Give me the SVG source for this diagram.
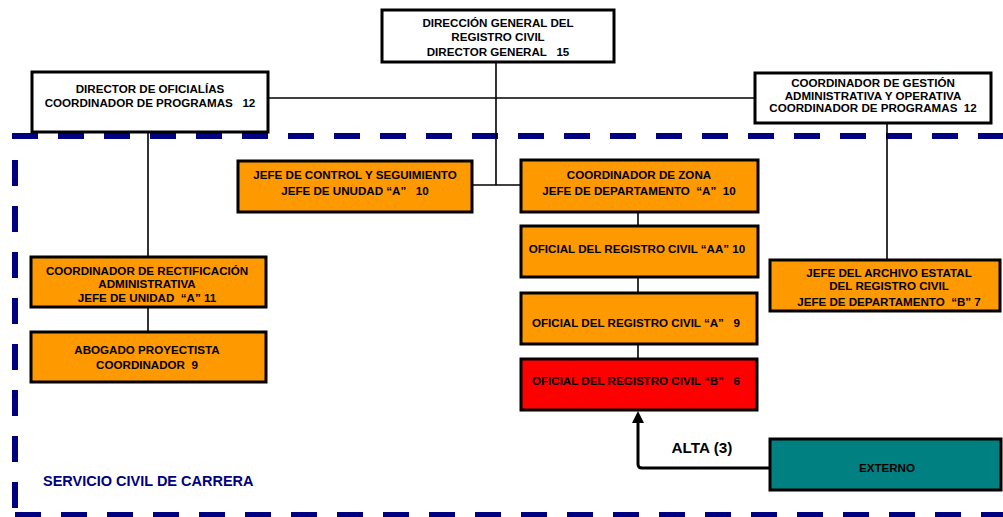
<svg xmlns="http://www.w3.org/2000/svg" width="1003" height="517" viewBox="0 0 1003 517" xml:space="preserve">
  <style>
    .box { stroke: #000; stroke-width: 3; }
    .white { fill: #fff; }
    .orange { fill: #FF9900; }
    .red { fill: #FF0000; }
    .teal { fill: #008080; }
    .t { font-family: "Liberation Sans", Arial, sans-serif; font-weight: bold; font-size: 11.6px; fill: #000; text-anchor: middle; white-space: pre; }
    .conn { stroke: #000; stroke-width: 1.6; fill: none; }
    .dash { stroke: #000080; stroke-width: 6; stroke-dasharray: 26 20; fill: none; }
  </style>

  <rect width="1003" height="517" fill="#fff"/>

  <!-- career civil service boundary -->
  <g id="boundary">
    <line class="dash" x1="12" y1="136" x2="1003" y2="136"/>
    <line class="dash" x1="15" y1="160" x2="15" y2="517"/>
    <line class="dash" x1="15" y1="515" x2="1003" y2="515"/>
    <text x="43" y="486" font-family="Liberation Sans, Arial, sans-serif" font-weight="bold" font-size="14.5" fill="#000080">SERVICIO CIVIL DE CARRERA</text>
  </g>

  <!-- connectors -->
  <g id="connectors">
    <line class="conn" x1="268" y1="98" x2="755" y2="98"/>
    <line class="conn" x1="496" y1="62" x2="496" y2="185"/>
    <line class="conn" x1="472" y1="185" x2="521" y2="185"/>
    <line class="conn" x1="148" y1="132" x2="148" y2="257"/>
    <line class="conn" x1="148" y1="307" x2="148" y2="332"/>
    <line class="conn" x1="887" y1="123" x2="887" y2="260"/>
    <line class="conn" x1="638" y1="212" x2="638" y2="226"/>
    <line class="conn" x1="638" y1="277" x2="638" y2="293"/>
    <line class="conn" x1="638" y1="344" x2="638" y2="359"/>
    <path d="M770,468 H642 Q638,468 638,464 V421" stroke="#000" stroke-width="3" fill="none"/>
    <polygon points="638,411 632,423 644,423" fill="#000"/>
    <text x="702" y="453" font-family="Liberation Sans, Arial, sans-serif" font-weight="bold" font-size="15.3" text-anchor="middle">ALTA (3)</text>
  </g>

  <g id="direccion-general">
    <rect class="box white" x="382" y="10" width="232" height="52"/>
    <text class="t" x="498" y="27">DIRECCIÓN GENERAL DEL</text>
    <text class="t" x="498" y="41">REGISTRO CIVIL</text>
    <text class="t" x="498" y="56">DIRECTOR GENERAL   15</text>
  </g>

  <g id="director-oficialias">
    <rect class="box white" x="32" y="72" width="236" height="60"/>
    <text class="t" x="150" y="93">DIRECTOR DE OFICIALÍAS</text>
    <text class="t" x="150" y="107">COORDINADOR DE PROGRAMAS   12</text>
  </g>

  <g id="coordinador-gestion">
    <rect class="box white" x="755" y="73" width="236" height="50"/>
    <text class="t" x="873" y="87">COORDINADOR DE GESTIÓN</text>
    <text class="t" x="873" y="100">ADMINISTRATIVA Y OPERATIVA</text>
    <text class="t" x="873" y="112">COORDINADOR DE PROGRAMAS  12</text>
  </g>

  <g id="jefe-control">
    <rect class="box orange" x="238" y="161" width="234" height="51"/>
    <text class="t" x="355" y="179">JEFE DE CONTROL Y SEGUIMIENTO</text>
    <text class="t" x="355" y="195">JEFE DE UNUDAD “A”   10</text>
  </g>

  <g id="coordinador-zona">
    <rect class="box orange" x="521" y="160" width="237" height="52"/>
    <text class="t" x="639" y="179">COORDINADOR DE ZONA</text>
    <text class="t" x="639" y="195">JEFE DE DEPARTAMENTO  “A”  10</text>
  </g>

  <g id="oficial-aa">
    <rect class="box orange" x="521" y="226" width="237" height="51"/>
    <text class="t" x="637" y="253">OFICIAL DEL REGISTRO CIVIL “AA” 10</text>
  </g>

  <g id="oficial-a">
    <rect class="box orange" x="521" y="293" width="236" height="51"/>
    <text class="t" x="636" y="327">OFICIAL DEL REGISTRO CIVIL “A”   9</text>
  </g>

  <g id="oficial-b">
    <rect class="box red" x="521" y="359" width="236" height="51"/>
    <text class="t" x="636" y="385">OFICIAL DEL REGISTRO CIVIL “B”   6</text>
  </g>

  <g id="coordinador-rectificacion">
    <rect class="box orange" x="31" y="257" width="235" height="50"/>
    <text class="t" x="147" y="275">COORDINADOR DE RECTIFICACIÓN</text>
    <text class="t" x="147" y="288">ADMINISTRATIVA</text>
    <text class="t" x="147" y="302">JEFE DE UNIDAD  “A” 11</text>
  </g>

  <g id="abogado-proyectista">
    <rect class="box orange" x="31" y="332" width="235" height="50"/>
    <text class="t" x="147" y="354">ABOGADO PROYECTISTA</text>
    <text class="t" x="147" y="369">COORDINADOR  9</text>
  </g>

  <g id="jefe-archivo">
    <rect class="box orange" x="770" y="260" width="230" height="51"/>
    <text class="t" x="889" y="277">JEFE DEL ARCHIVO ESTATAL</text>
    <text class="t" x="889" y="290">DEL REGISTRO CIVIL</text>
    <text class="t" x="889" y="306">JEFE DE DEPARTAMENTO  “B” 7</text>
  </g>

  <g id="externo">
    <rect class="box teal" x="770" y="439" width="231" height="51"/>
    <text class="t" x="887" y="472">EXTERNO</text>
  </g>
</svg>
